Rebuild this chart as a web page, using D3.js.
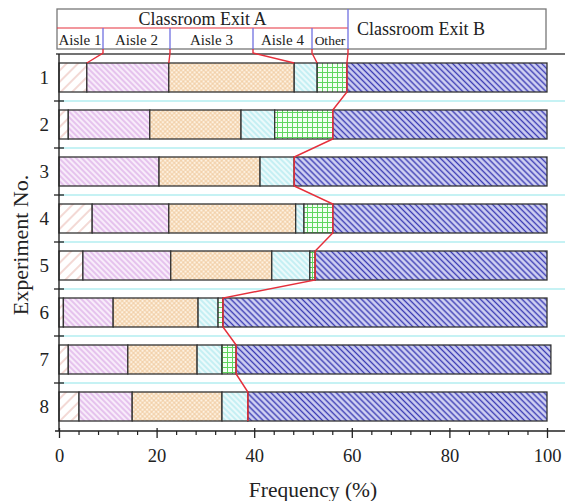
<!DOCTYPE html>
<html><head><meta charset="utf-8">
<script src="https://cdn.jsdelivr.net/npm/d3@7"></script>
<style>body{margin:0;background:#fff}svg{display:block}</style>
</head><body>
<svg id="c" width="565" height="501"></svg>
<script>
// ---- data ----
const experiments = ["1","2","3","4","5","6","7","8"];
const aisle1 = [5.7, 1.9, 0.0, 6.8, 4.9, 0.9, 1.9, 4.1];
const aisle2 = [16.8, 16.7, 20.5, 15.7, 18.0, 10.2, 12.2, 10.9];
const aisle3 = [25.7, 18.7, 20.7, 26.0, 20.7, 17.4, 14.2, 18.4];
const aisle4 = [4.7, 6.9, 7.0, 1.7, 7.8, 4.1, 5.1, 5.3];
const other  = [6.1, 11.9, 0.0, 5.9, 1.1, 1.0, 2.9, 0.0];
const exitB  = [41.0, 43.9, 51.8, 43.9, 47.5, 66.4, 64.5, 61.3];
const seriesKeys = ["Aisle 1","Aisle 2","Aisle 3","Aisle 4","Other","Classroom Exit B"];
const xTicks = [0,20,40,60,80,100];

const rows = experiments.map((e,i)=>({exp:e,"Aisle 1":aisle1[i],"Aisle 2":aisle2[i],"Aisle 3":aisle3[i],"Aisle 4":aisle4[i],"Other":other[i],"Classroom Exit B":exitB[i]}));
const stack = d3.stack().keys(seriesKeys)(rows);

const FONT = "'Liberation Serif','Times New Roman',serif";
const svg = d3.select("#c").style("font-family", FONT);

// ---- scales ----
const x = d3.scaleLinear().domain([0,100]).range([59,547]);
const pad = 0.383;
const y = d3.scaleBand().domain(experiments).range([54,430]).paddingInner(pad).paddingOuter(pad/2);
const step = y.step();

// ---- patterns ----
const defs = svg.append("defs");
function lines(id, size, angle, bg, col, w){
  const p = defs.append("pattern").attr("id",id).attr("patternUnits","userSpaceOnUse")
    .attr("width",size).attr("height",size).attr("patternTransform",`rotate(${angle})`);
  p.append("rect").attr("width",size).attr("height",size).attr("fill",bg);
  p.append("line").attr("x1",size/2).attr("x2",size/2).attr("y1",0).attr("y2",size).attr("stroke",col).attr("stroke-width",w);
}
lines("pa1", 8, 45, "#ffffff", "#e7b4ab", 1);
lines("pa2", 4, -45, "#f8ecfa", "#d7a2e4", 1.1);
lines("pa4", 4, -45, "#ebfafb", "#a6e6ee", 1.1);
lines("pb", 4.2, -45, "#cfd0f2", "#3c3cb4", 1.4);
(function(){
  const p = defs.append("pattern").attr("id","pa3").attr("patternUnits","userSpaceOnUse").attr("width",3.2).attr("height",3.2).attr("patternTransform","rotate(45)");
  p.append("rect").attr("width",3.2).attr("height",3.2).attr("fill","#fdf1e1");
  p.append("line").attr("x1",1.6).attr("x2",1.6).attr("y1",0).attr("y2",3.2).attr("stroke","#efc79a").attr("stroke-width",0.8);
  p.append("line").attr("y1",1.6).attr("y2",1.6).attr("x1",0).attr("x2",3.2).attr("stroke","#efc79a").attr("stroke-width",0.8);
  const q = defs.append("pattern").attr("id","po").attr("patternUnits","userSpaceOnUse").attr("width",5).attr("height",5);
  q.append("rect").attr("width",5).attr("height",5).attr("fill","#f4fff4");
  q.append("line").attr("x1",2.5).attr("x2",2.5).attr("y1",0).attr("y2",5).attr("stroke","#5fd65f").attr("stroke-width",1);
  q.append("line").attr("y1",2.5).attr("y2",2.5).attr("x1",0).attr("x2",5).attr("stroke","#5fd65f").attr("stroke-width",1);
})();
const fills = {"Aisle 1":"url(#pa1)","Aisle 2":"url(#pa2)","Aisle 3":"url(#pa3)","Aisle 4":"url(#pa4)","Other":"url(#po)","Classroom Exit B":"url(#pb)"};

// ---- grid lines between rows ----
const bounds = experiments.slice(1).map(e => y(e) - step*pad/2);
svg.append("g").selectAll("line").data(bounds).join("line")
  .attr("x1",59).attr("x2",565).attr("y1",d=>d).attr("y2",d=>d)
  .attr("stroke","#b3eef1").attr("stroke-width",1.6);

// ---- bars ----
svg.append("g").selectAll("g").data(stack).join("g")
  .attr("fill", s => fills[s.key])
  .selectAll("rect").data(s=>s.filter(d=>d[1]-d[0]>0)).join("rect")
  .attr("x", d=>x(d[0])).attr("width", d=>x(d[1])-x(d[0]))
  .attr("y", d=>y(d.data.exp)).attr("height", y.bandwidth())
  .attr("stroke","#333").attr("stroke-width",1.3);

// ---- red zigzag at Exit A / Exit B boundary ----
const exitA = stack[4]; // top of "Other"
const zig = [];
exitA.forEach((d,i)=>{ zig.push([x(d[1]), y(d.data.exp)]); zig.push([x(d[1]), y(d.data.exp)+y.bandwidth()]); });
svg.append("path").attr("d", d3.line()(zig)).attr("fill","none").attr("stroke","#e5303c").attr("stroke-width",1.5);

// ---- axes ----
svg.append("line").attr("x1",56).attr("x2",565).attr("y1",54).attr("y2",54).attr("stroke","#444").attr("stroke-width",1.3);
svg.append("line").attr("x1",55).attr("x2",565).attr("y1",431).attr("y2",431).attr("stroke","#222").attr("stroke-width",1.4);
svg.append("line").attr("x1",59).attr("x2",59).attr("y1",54).attr("y2",431).attr("stroke","#222").attr("stroke-width",1.4);

const minor = d3.range(0,101,4).filter(v=>v%20!==0);
const gMin = svg.append("g").attr("transform","translate(0,431)")
  .call(d3.axisBottom(x).tickValues(minor).tickSize(4).tickFormat(""));
gMin.select(".domain").remove();
gMin.selectAll("line").attr("stroke","#222").attr("stroke-width",1.2);

const gx = svg.append("g").attr("transform","translate(0,431)")
  .call(d3.axisBottom(x).tickValues(xTicks).tickSize(7).tickPadding(11));
gx.select(".domain").remove();
gx.selectAll(".tick line").attr("y1",-3).attr("stroke","#222").attr("stroke-width",1.3);
gx.selectAll("text").attr("font-family",FONT).attr("font-size",18.5).attr("fill","#222");

const gy = svg.append("g").attr("transform","translate(59,0)")
  .call(d3.axisLeft(y).tickSize(0).tickPadding(10));
gy.select(".domain").remove();
gy.selectAll("text").attr("font-family",FONT).attr("font-size",19).attr("fill","#222");
svg.append("g").selectAll("line").data(bounds).join("line")
  .attr("x1",54).attr("x2",64).attr("y1",d=>d).attr("y2",d=>d).attr("stroke","#222").attr("stroke-width",1.3);

svg.append("text").attr("x",313).attr("y",497).attr("text-anchor","middle")
  .attr("font-size",21.5).attr("fill","#222").text("Frequency (%)");
svg.append("text").attr("transform","translate(28,245) rotate(-90)").attr("text-anchor","middle")
  .attr("font-size",22).attr("fill","#222").text("Experiment No.");

// ---- legend ----
const lg = svg.append("g");
const L = {x0:57, xA:348, xB:546, top:9, mid:28, bot:49};
const dividers = [103,170,253,312]; // sub-cell boundaries inside Exit A
const cellEdges = [L.x0, ...dividers, L.xA];
lg.append("rect").attr("x",L.x0).attr("y",L.top).attr("width",L.xB-L.x0).attr("height",L.bot-L.top)
  .attr("fill","#fff").attr("stroke","#777").attr("stroke-width",1.3);
lg.append("line").attr("x1",L.x0).attr("x2",L.xA).attr("y1",L.mid).attr("y2",L.mid).attr("stroke","#e5303c").attr("stroke-width",1.2);
lg.selectAll(".dv").data(dividers).join("line").attr("class","dv")
  .attr("x1",d=>d).attr("x2",d=>d).attr("y1",L.mid).attr("y2",L.bot).attr("stroke","#7070e0").attr("stroke-width",1.3);
lg.append("line").attr("x1",L.xA).attr("x2",L.xA).attr("y1",L.top).attr("y2",L.bot).attr("stroke","#7070e0").attr("stroke-width",1.3);
lg.append("text").attr("x",(L.x0+L.xA)/2).attr("y",25).attr("text-anchor","middle").attr("font-size",18).attr("fill","#222").text("Classroom Exit A");
lg.append("text").attr("x",357).attr("y",35).attr("font-size",18).attr("fill","#222").text("Classroom Exit B");
lg.selectAll(".ct").data(seriesKeys.slice(0,5)).join("text").attr("class","ct")
  .attr("x",(d,i)=>(cellEdges[i]+cellEdges[i+1])/2).attr("y",44.5).attr("text-anchor","middle")
  .attr("font-size",(d,i)=>i===4?13.5:15).attr("fill","#222").text(d=>d);

// connectors from legend cell edges to row-1 bar boundaries
const r1 = stack.slice(0,5).map(s=>x(s[0][1]));
const conn = cellEdges.slice(1).map((cx,i)=>[[cx,L.bot],[cx,53],[r1[i], y(experiments[0])]]);
svg.append("g").selectAll("path").data(conn).join("path")
  .attr("d", d=>d3.line()(d)).attr("fill","none").attr("stroke","#e5303c").attr("stroke-width",1.4);
</script>
</body></html>
